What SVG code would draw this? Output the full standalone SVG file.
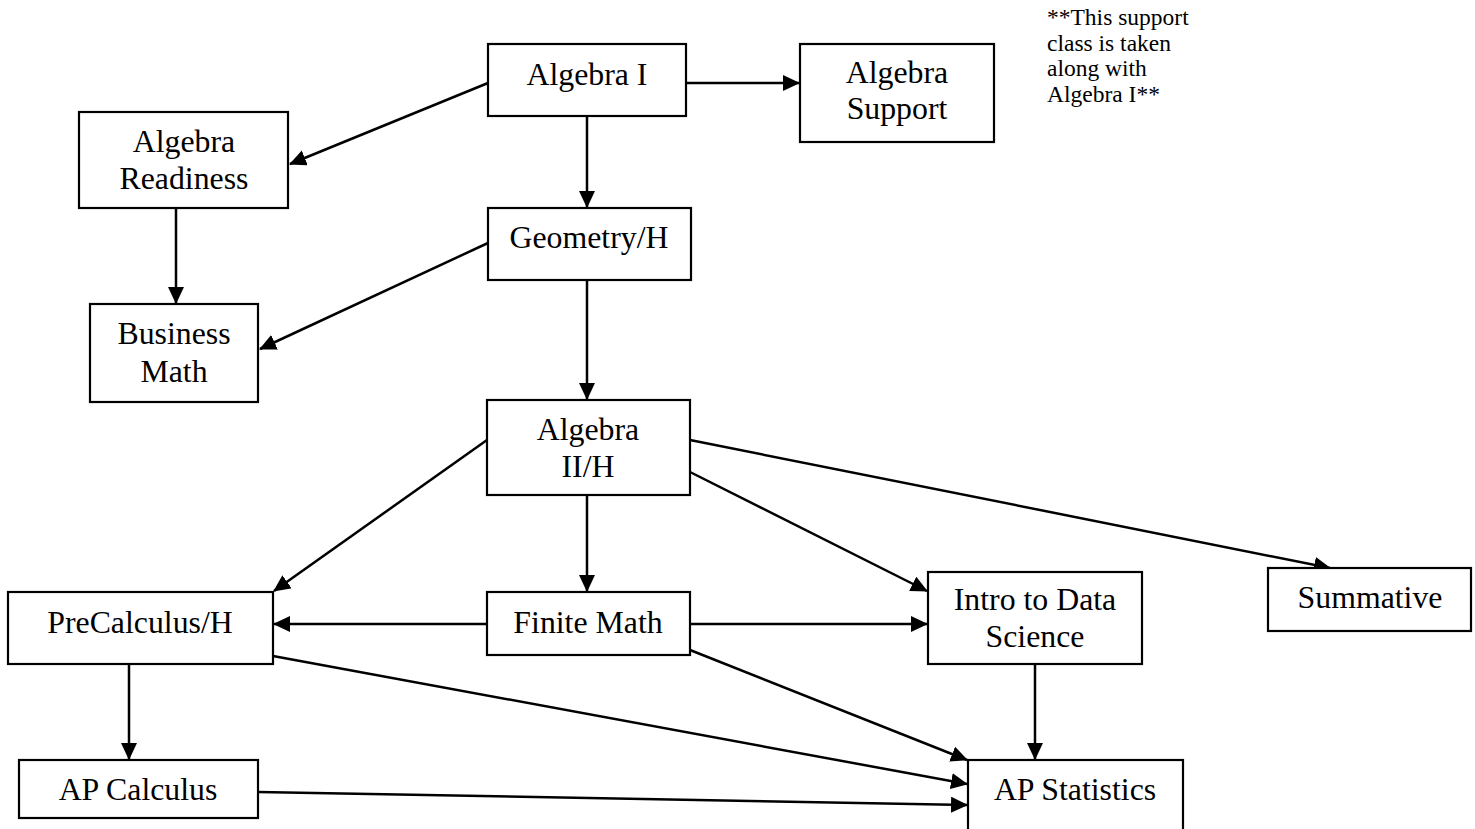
<svg xmlns="http://www.w3.org/2000/svg" width="1475" height="829" viewBox="0 0 1475 829">
<style>
  .box { fill: #ffffff; stroke: #000000; stroke-width: 2.2; }
  .lbl { font-family: "Liberation Serif", "Times New Roman", serif; font-size: 31.8px; fill: #000000; text-anchor: middle; }
  .note { font-family: "Liberation Serif", "Times New Roman", serif; font-size: 23.5px; fill: #000000; }
  .edge { stroke: #000000; stroke-width: 2.5; fill: none; marker-end: url(#arrow); }
</style>
<defs>
  <marker id="arrow" markerUnits="userSpaceOnUse" markerWidth="18" markerHeight="18" refX="16" refY="8" orient="auto">
    <path d="M0,0 L17,8 L0,16 z" fill="#000000"/>
  </marker>
</defs>
<rect width="1475" height="829" fill="#ffffff"/>

<g id="connectors">
  <line class="edge" x1="686" y1="83" x2="799" y2="83"/>
  <line class="edge" x1="488" y1="83" x2="290" y2="164"/>
  <line class="edge" x1="587" y1="116" x2="587" y2="207"/>
  <line class="edge" x1="176" y1="208" x2="176" y2="303"/>
  <line class="edge" x1="488" y1="243" x2="260" y2="349"/>
  <line class="edge" x1="587" y1="280" x2="587" y2="399"/>
  <line class="edge" x1="487" y1="440" x2="274" y2="591"/>
  <line class="edge" x1="587" y1="495" x2="587" y2="591"/>
  <line class="edge" x1="690" y1="440" x2="1330" y2="568"/>
  <line class="edge" x1="690" y1="472" x2="927" y2="591"/>
  <line class="edge" x1="487" y1="624" x2="274" y2="624"/>
  <line class="edge" x1="690" y1="624" x2="927" y2="624"/>
  <line class="edge" x1="690" y1="650" x2="967" y2="760"/>
  <line class="edge" x1="273" y1="656" x2="967" y2="784"/>
  <line class="edge" x1="258" y1="792" x2="967" y2="805"/>
  <line class="edge" x1="1035" y1="664" x2="1035" y2="759"/>
  <line class="edge" x1="129" y1="664" x2="129" y2="759"/>
</g>

<g id="algebra1">
  <rect class="box" x="488" y="44" width="198" height="72"/>
  <text class="lbl" x="587" y="85">Algebra I</text>
</g>
<g id="algebraSupport">
  <rect class="box" x="800" y="44" width="194" height="98"/>
  <text class="lbl" x="897" y="83">Algebra</text>
  <text class="lbl" x="897" y="119">Support</text>
</g>
<g id="note">
  <text class="note" x="1047" y="25">**This support</text>
  <text class="note" x="1047" y="50.5">class is taken</text>
  <text class="note" x="1047" y="76">along with</text>
  <text class="note" x="1047" y="101.5">Algebra I**</text>
</g>
<g id="algebraReadiness">
  <rect class="box" x="79" y="112" width="209" height="96"/>
  <text class="lbl" x="184" y="152">Algebra</text>
  <text class="lbl" x="184" y="189">Readiness</text>
</g>
<g id="geometry">
  <rect class="box" x="488" y="208" width="203" height="72"/>
  <text class="lbl" x="589" y="248">Geometry/H</text>
</g>
<g id="businessMath">
  <rect class="box" x="90" y="304" width="168" height="98"/>
  <text class="lbl" x="174" y="344">Business</text>
  <text class="lbl" x="174" y="382">Math</text>
</g>
<g id="algebra2">
  <rect class="box" x="487" y="400" width="203" height="95"/>
  <text class="lbl" x="588" y="440">Algebra</text>
  <text class="lbl" x="588" y="477">II/H</text>
</g>
<g id="precalc">
  <rect class="box" x="8" y="592" width="265" height="72"/>
  <text class="lbl" x="140" y="633">PreCalculus/H</text>
</g>
<g id="finiteMath">
  <rect class="box" x="487" y="592" width="203" height="63"/>
  <text class="lbl" x="588" y="633">Finite Math</text>
</g>
<g id="introDataScience">
  <rect class="box" x="928" y="572" width="214" height="92"/>
  <text class="lbl" x="1035" y="610">Intro to Data</text>
  <text class="lbl" x="1035" y="647">Science</text>
</g>
<g id="summative">
  <rect class="box" x="1268" y="568" width="203" height="63"/>
  <text class="lbl" x="1370" y="608">Summative</text>
</g>
<g id="apCalculus">
  <rect class="box" x="19" y="760" width="239" height="58"/>
  <text class="lbl" x="138" y="800">AP Calculus</text>
</g>
<g id="apStatistics">
  <rect class="box" x="968" y="760" width="215" height="90"/>
  <text class="lbl" x="1075" y="800">AP Statistics</text>
</g>
</svg>
